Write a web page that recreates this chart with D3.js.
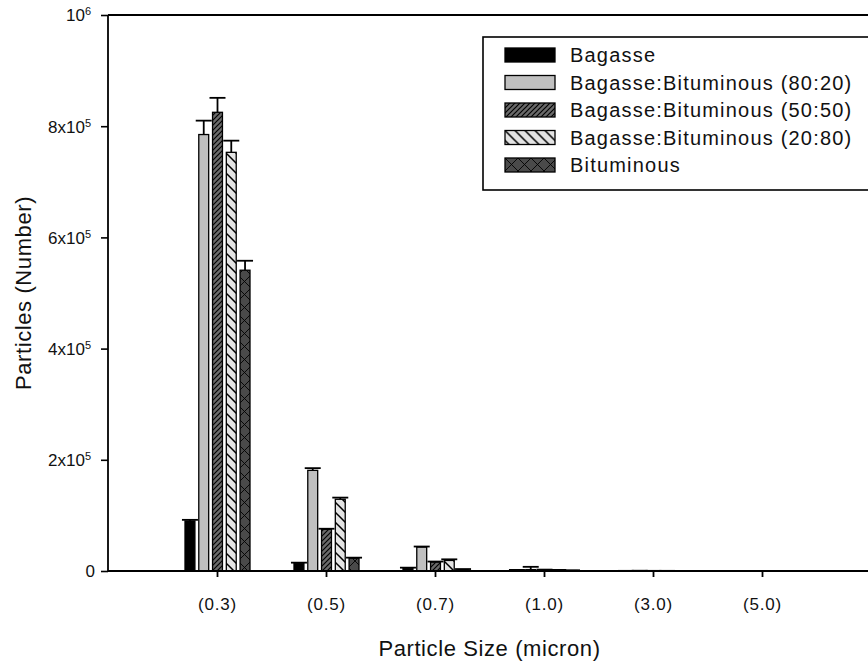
<!DOCTYPE html>
<html>
<head>
<meta charset="utf-8">
<script src="https://cdn.jsdelivr.net/npm/d3@7"></script>
<style>
  body { margin: 0; background: #fff; }
  text { font-family: "Liberation Sans", Arial, sans-serif; fill: #111; }
</style>
</head>
<body>
<script>
// particle counts per size class, one array per fuel blend
const categories = ['(0.3)', '(0.5)', '(0.7)', '(1.0)', '(3.0)', '(5.0)']
const seriesNames = ['Bagasse', 'Bagasse:Bituminous (80:20)', 'Bagasse:Bituminous (50:50)', 'Bagasse:Bituminous (20:80)', 'Bituminous']
const bagasse = [90000, 14000, 5000, 1500, 300, 100]
const mix8020 = [785000, 181000, 43000, 2500, 500, 200]
const mix5050 = [825000, 75000, 16000, 2000, 300, 100]
const mix2080 = [753000, 129000, 19000, 1500, 300, 100]
const bituminous = [541000, 23000, 2500, 800, 200, 100]
const bagasseErr = [2000, 1000, 1000, 500, 0, 0]
const mix8020Err = [25000, 4000, 1000, 5000, 0, 0]
const mix5050Err = [26000, 1000, 1000, 500, 0, 0]
const mix2080Err = [21000, 3000, 2000, 500, 0, 0]
const bituminousErr = [17000, 1000, 1000, 500, 0, 0]
const yTicks = [0, 200000, 400000, 600000, 800000, 1000000]
const yTickLabels = [['0', ''], ['2x10', '5'], ['4x10', '5'], ['6x10', '5'], ['8x10', '5'], ['10', '6']]

const values = [bagasse, mix8020, mix5050, mix2080, bituminous]
const errors = [bagasseErr, mix8020Err, mix5050Err, mix2080Err, bituminousErr]

const fullWidth = 868
const fullHeight = 668
const margin = { top: 15, right: -3, bottom: 97, left: 108 }
const width = fullWidth - margin.left - margin.right
const height = fullHeight - margin.top - margin.bottom

const svg = d3.select('body')
  .append('svg')
  .attr('width', fullWidth)
  .attr('height', fullHeight)

// hatch patterns for the bar fills
const defs = svg.append('defs')
function hatch(id, bg, size, dir, sw) {
  const p = defs.append('pattern')
    .attr('id', id)
    .attr('patternUnits', 'userSpaceOnUse')
    .attr('width', size)
    .attr('height', size)
  p.append('rect').attr('width', size).attr('height', size).attr('fill', bg)
  if (dir.includes('/')) {
    p.append('path')
      .attr('d', `M0,${size}L${size},0M${-size / 2},${size / 2}L${size / 2},${-size / 2}M${size / 2},${size * 1.5}L${size * 1.5},${size / 2}`)
      .attr('stroke', '#000').attr('stroke-width', sw)
  }
  if (dir.includes('\\')) {
    p.append('path')
      .attr('d', `M0,0L${size},${size}M${-size / 2},${size / 2}L${size / 2},${size * 1.5}M${size / 2},${-size / 2}L${size * 1.5},${size / 2}`)
      .attr('stroke', '#000').attr('stroke-width', sw)
  }
}
hatch('h5050', '#6a6a6a', 5, '/', 1.2)
hatch('h2080', '#e4e4e4', 10, '\\', 1.5)
hatch('hBit', '#4a4a4a', 13, '/\\', 0.9)
const fills = ['#000', '#c0c0c0', 'url(#h5050)', 'url(#h2080)', 'url(#hBit)']

const g = svg.append('g')
  .attr('transform', `translate(${margin.left},${margin.top})`)

const x = d3.scalePoint()
  .domain(categories)
  .range([0, width])
  .padding(1)

const xSub = d3.scaleBand()
  .domain(d3.range(seriesNames.length))
  .range([-32, 33])
  .paddingInner(0.28)

const y = d3.scaleLinear()
  .domain([0, 1000000])
  .range([height, 0])

// bars
values.forEach((series, s) => {
  const bars = g.append('g')
  bars.selectAll('rect')
    .data(series)
    .enter().append('rect')
    .attr('x', (d, i) => x(categories[i]) + xSub(s))
    .attr('y', d => y(d))
    .attr('width', xSub.bandwidth())
    .attr('height', d => height - y(d))
    .attr('fill', fills[s])
    .attr('stroke', '#000')
    .attr('stroke-width', 1.3)

  // error bars, upper side only
  const err = g.append('g')
    .attr('stroke', '#000')
    .attr('stroke-width', 1.8)
  series.forEach((d, i) => {
    const cx = x(categories[i]) + xSub(s) + xSub.bandwidth() / 2
    const top = y(d + errors[s][i])
    err.append('line').attr('x1', cx).attr('x2', cx).attr('y1', y(d)).attr('y2', top)
    err.append('line').attr('x1', cx - 8).attr('x2', cx + 8).attr('y1', top).attr('y2', top)
  })
})

// axes
const xAxis = d3.axisBottom(x).tickSize(6).tickPadding(21)
g.append('g')
  .attr('transform', `translate(0,${height})`)
  .call(xAxis)
  .call(a => a.select('.domain').attr('stroke-width', 1.8).attr('d', `M0,0H${width}`))
  .call(a => a.selectAll('.tick line').attr('stroke-width', 1.8))
  .call(a => a.selectAll('.tick text')
    .attr('font-size', 17)
    .attr('letter-spacing', 0.8)
    .attr('fill', '#111'))

const yAxis = d3.axisLeft(y).tickValues(yTicks).tickSize(7).tickFormat('')
const ya = g.append('g').call(yAxis)
ya.select('.domain').attr('stroke-width', 1.8).attr('d', `M0,${height}V0`)
ya.selectAll('.tick line').attr('stroke-width', 1.6)
ya.selectAll('.tick').each(function (d, i) {
  const t = d3.select(this).append('text')
    .attr('x', yTickLabels[i][1] ? -17 : -13)
    .attr('dy', '0.35em')
    .attr('text-anchor', 'end')
    .attr('font-size', 17)
  t.append('tspan').text(yTickLabels[i][0])
  if (yTickLabels[i][1]) {
    t.append('tspan').attr('dy', '-0.55em').attr('font-size', 11).text(yTickLabels[i][1])
  }
})

// top frame line
g.append('line')
  .attr('x1', 0).attr('x2', width + 10)
  .attr('y1', 0).attr('y2', 0)
  .attr('stroke', '#000').attr('stroke-width', 1.8)

// axis titles
svg.append('text')
  .attr('x', margin.left + width / 2)
  .attr('y', 656)
  .attr('text-anchor', 'middle')
  .attr('font-size', 22)
  .attr('letter-spacing', 0.6)
  .text('Particle Size (micron)')

svg.append('text')
  .attr('transform', `translate(31,${margin.top + height / 2}) rotate(-90)`)
  .attr('text-anchor', 'middle')
  .attr('font-size', 22)
  .attr('letter-spacing', 0.6)
  .text('Particles (Number)')

// legend
const legend = svg.append('g')
  .attr('transform', 'translate(483,37)')
legend.append('rect')
  .attr('width', 400)
  .attr('height', 153)
  .attr('fill', '#fff')
  .attr('stroke', '#000')
  .attr('stroke-width', 1.6)
const rows = legend.selectAll('.row')
  .data(seriesNames)
  .enter().append('g')
  .attr('class', 'row')
  .attr('transform', (d, i) => `translate(22,${11 + i * 27.5})`)
rows.append('rect')
  .attr('width', 50)
  .attr('height', 14)
  .attr('fill', (d, i) => fills[i])
  .attr('stroke', '#000')
  .attr('stroke-width', 1.3)
rows.append('text')
  .attr('x', 65)
  .attr('y', 14)
  .attr('font-size', 20)
  .attr('letter-spacing', 1.2)
  .text(d => d)
</script>
</body>
</html>
